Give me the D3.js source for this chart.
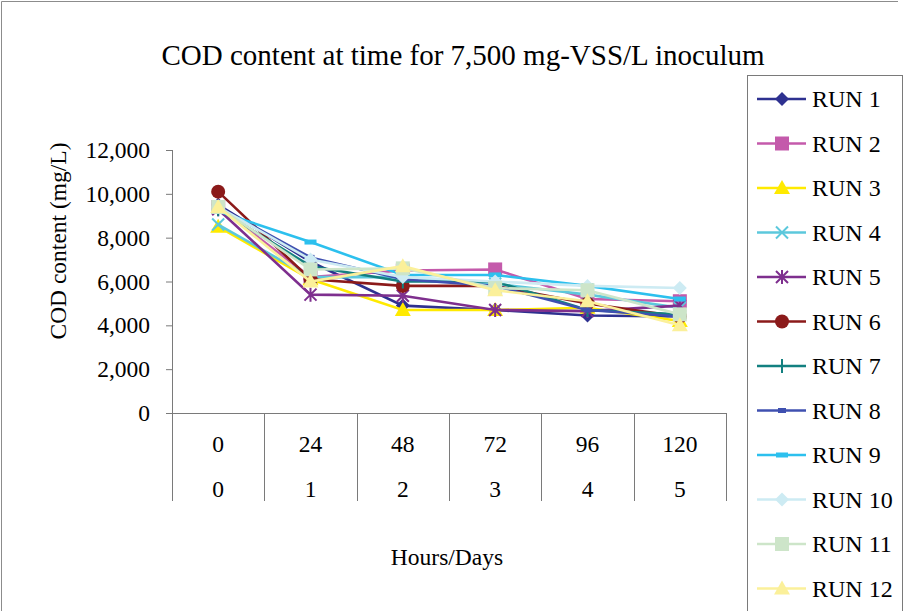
<!DOCTYPE html>
<html>
<head>
<meta charset="utf-8">
<script src="https://cdn.jsdelivr.net/npm/d3@7"></script>
<style>
  html, body { margin: 0; padding: 0; background: #fff; }
  svg { display: block; font-family: "Liberation Serif", "Times New Roman", serif; }
</style>
</head>
<body>
<svg id="chart" width="904" height="611"></svg>
<script>
// ---- data ----
const hours = ["0", "24", "48", "72", "96", "120"];
const days = ["0", "1", "2", "3", "4", "5"];
const yTicks = [0, 2000, 4000, 6000, 8000, 10000, 12000];
const runNames = ["RUN 1","RUN 2","RUN 3","RUN 4","RUN 5","RUN 6","RUN 7","RUN 8","RUN 9","RUN 10","RUN 11","RUN 12"];
const run1  = [9500, 6900, 4900, 4700, 4450, 4400];
const run2  = [9400, 6200, 6500, 6550, 5200, 5100];
const run3  = [8500, 6100, 4700, 4700, 4800, 4200];
const run4  = [8600, 6200, 6200, 5900, 5400, 4800];
const run5  = [9300, 5400, 5350, 4700, 4650, 4900];
const run6  = [10100, 6100, 5800, 5800, 5000, 4400];
const run7  = [9300, 6700, 6000, 6000, 4700, 4500];
const run8  = [9400, 7100, 6100, 5800, 4700, 4400];
const run9  = [9200, 7800, 6300, 6300, 5800, 5200];
const run10 = [9400, 7000, 6200, 6000, 5800, 5700];
const run11 = [9400, 6550, 6600, 5700, 5600, 4500];
const run12 = [9400, 6000, 6700, 5600, 5100, 4000];
const runValues = [run1, run2, run3, run4, run5, run6, run7, run8, run9, run10, run11, run12];

// ---- styles ----
const colors = ["#2E3190","#C45AAB","#FFEA00","#5CC8DC","#7E2F8E","#8B1A1A",
                "#138080","#3F50B0","#2CC0EE","#CDEBF3","#CDE5C9","#FBF09A"];
const markers = ["diamond","square","triangle","x","star","circle",
                 "plus","dash8","dash9","diamond","square","triangle"];

const svg = d3.select("#chart");

// outer border
svg.append("path").attr("d", "M1.5,611V1.5H898")
  .attr("fill", "none").attr("stroke", "#8c8c8c").attr("stroke-width", 1);

const plotLeft = 172, plotRight = 726, plotTop = 150, plotBottom = 413, tableBottom = 501;

const x = d3.scaleBand().domain(hours).range([plotLeft, plotRight]);
const y = d3.scaleLinear().domain([0, 12000]).range([plotBottom, plotTop]);

// title
svg.append("text").attr("x", 463).attr("y", 65).attr("text-anchor", "middle")
  .attr("font-size", 29).attr("fill", "#000")
  .text("COD content at time for 7,500 mg-VSS/L inoculum");

// y axis
const yAxis = d3.axisLeft(y).tickValues(yTicks).tickFormat(d3.format(",")).tickSize(6).tickPadding(16);
const gy = svg.append("g").attr("transform", `translate(${plotLeft},0)`).call(yAxis);
gy.select(".domain").remove();
gy.selectAll(".tick line").attr("stroke", "#7a7a7a");
gy.selectAll(".tick text").attr("font-size", 23.5).attr("fill", "#000")
  .attr("font-family", "Liberation Serif, serif");

// axis lines
svg.append("line").attr("x1", plotLeft + 0.5).attr("x2", plotLeft + 0.5)
  .attr("y1", plotTop).attr("y2", tableBottom).attr("stroke", "#7a7a7a");
svg.append("line").attr("x1", plotLeft - 6).attr("x2", plotRight)
  .attr("y1", plotBottom + 0.5).attr("y2", plotBottom + 0.5).attr("stroke", "#7a7a7a");

// category table separators
hours.forEach((h, i) => {
  const xr = x(h) + x.bandwidth();
  svg.append("line").attr("x1", Math.round(xr) + 0.5).attr("x2", Math.round(xr) + 0.5)
    .attr("y1", plotBottom).attr("y2", tableBottom).attr("stroke", "#7a7a7a");
});
svg.append("g").selectAll("text.h").data(hours).join("text")
  .attr("x", d => x(d) + x.bandwidth() / 2).attr("y", 452)
  .attr("text-anchor", "middle").attr("font-size", 23.5).text(d => d);
svg.append("g").selectAll("text.d").data(days).join("text")
  .attr("x", (d, i) => x(hours[i]) + x.bandwidth() / 2).attr("y", 497)
  .attr("text-anchor", "middle").attr("font-size", 23.5).text(d => d);

// axis titles
svg.append("text").attr("transform", "translate(66,241) rotate(-90)")
  .attr("text-anchor", "middle").attr("font-size", 23.5).text("COD content (mg/L)");
svg.append("text").attr("x", 447).attr("y", 565).attr("text-anchor", "middle")
  .attr("font-size", 23.5).text("Hours/Days");

// marker drawing
function drawMarker(g, type, cx, cy, color) {
  switch (type) {
    case "diamond":
      g.append("path").attr("d", `M${cx},${cy-7}L${cx+7},${cy}L${cx},${cy+7}L${cx-7},${cy}Z`).attr("fill", color);
      break;
    case "square":
      g.append("rect").attr("x", cx - 7).attr("y", cy - 7).attr("width", 14).attr("height", 14).attr("fill", color);
      break;
    case "triangle":
      g.append("path").attr("d", `M${cx},${cy-8}L${cx+8},${cy+6}L${cx-8},${cy+6}Z`).attr("fill", color);
      break;
    case "x":
      g.append("path").attr("d", `M${cx-6},${cy-6}L${cx+6},${cy+6}M${cx-6},${cy+6}L${cx+6},${cy-6}`)
        .attr("stroke", color).attr("stroke-width", 2).attr("fill", "none");
      break;
    case "star":
      g.append("path").attr("d", `M${cx-6},${cy-6}L${cx+6},${cy+6}M${cx-6},${cy+6}L${cx+6},${cy-6}M${cx},${cy-7}L${cx},${cy+7}`)
        .attr("stroke", color).attr("stroke-width", 2).attr("fill", "none");
      break;
    case "circle":
      g.append("circle").attr("cx", cx).attr("cy", cy).attr("r", 7).attr("fill", color);
      break;
    case "plus":
      g.append("path").attr("d", `M${cx-6},${cy}L${cx+6},${cy}M${cx},${cy-7}L${cx},${cy+7}`)
        .attr("stroke", color).attr("stroke-width", 2).attr("fill", "none");
      break;
    case "dash8":
      g.append("rect").attr("x", cx - 4).attr("y", cy - 2.5).attr("width", 8).attr("height", 5).attr("fill", color);
      break;
    case "dash9":
      g.append("rect").attr("x", cx - 6).attr("y", cy - 2.5).attr("width", 12).attr("height", 5).attr("fill", color);
      break;
  }
}

// series
const line = d3.line().x((d, i) => x(hours[i]) + x.bandwidth() / 2).y(d => y(d));
runValues.forEach((vals, k) => {
  const g = svg.append("g");
  g.append("path").datum(vals).attr("d", line).attr("fill", "none")
    .attr("stroke", colors[k]).attr("stroke-width", 2.6);
  vals.forEach((v, i) => drawMarker(g, markers[k], x(hours[i]) + x.bandwidth() / 2, y(v), colors[k]));
});

// legend
const lg = svg.append("g");
lg.append("rect").attr("x", 747.5).attr("y", 75.5).attr("width", 155).attr("height", 545)
  .attr("fill", "#fff").attr("stroke", "#7a7a7a");
runNames.forEach((name, k) => {
  const ly = 99 + k * 44.5;
  const gi = lg.append("g");
  gi.append("line").attr("x1", 757).attr("x2", 806).attr("y1", ly).attr("y2", ly)
    .attr("stroke", colors[k]).attr("stroke-width", 2.6);
  drawMarker(gi, markers[k], 782, ly, colors[k]);
  gi.append("text").attr("x", 812).attr("y", ly + 8).attr("font-size", 24).text(name);
});
</script>
</body>
</html>
